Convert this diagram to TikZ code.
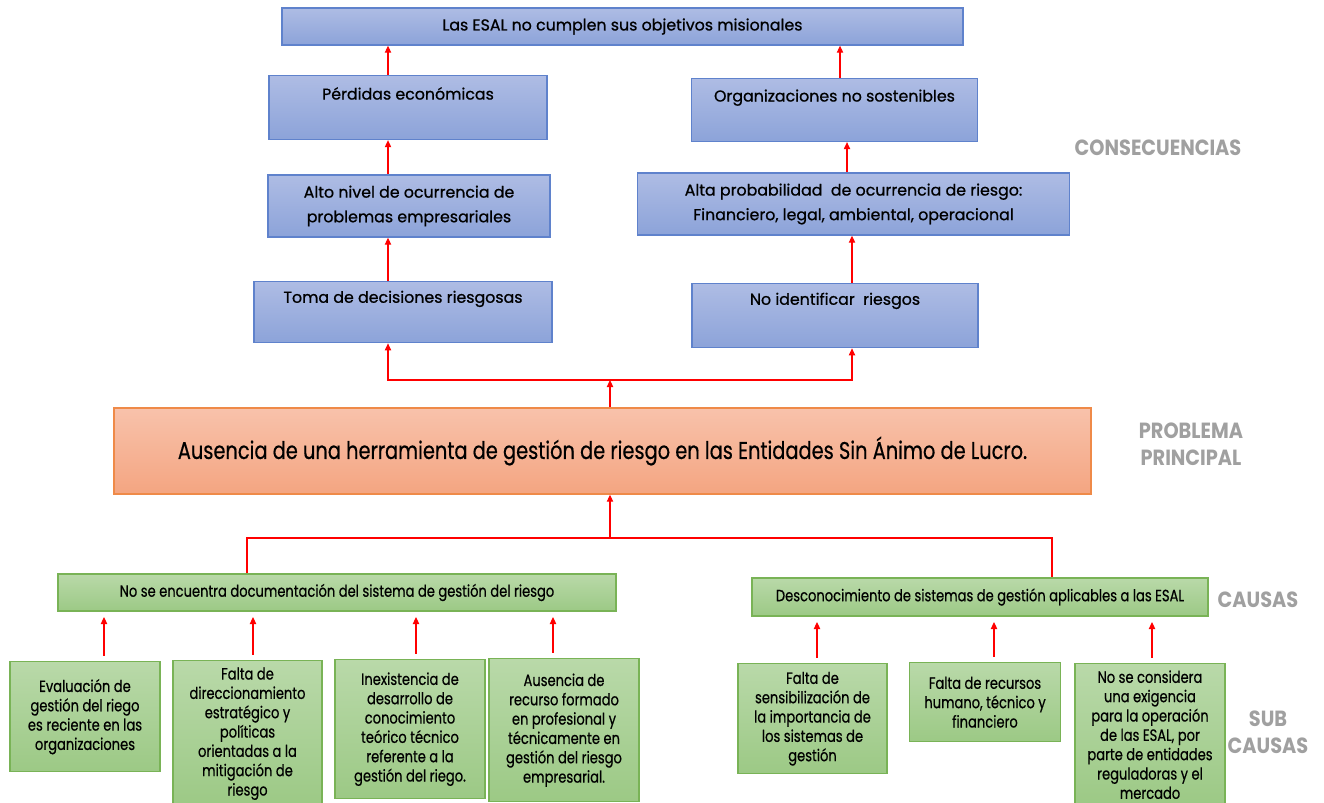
\documentclass[tikz,border=0pt]{standalone}
\usepackage{fontspec}
\setmainfont[FakeBold=0.8]{Poppins}
\newfontfamily\narrowfont[FakeStretch=0.8,FakeBold=0.5]{Poppins}
\newfontfamily\tagfont[FakeStretch=0.88]{Poppins}
\usepackage{xcolor}
\usepackage{tikz}
\usetikzlibrary{arrows.meta}
\usetikzlibrary{calc}

\newdimen\pix \pix=0.02cm

\definecolor{blueTop}{HTML}{AEBCE4}
\definecolor{blueBot}{HTML}{8CA3D9}
\definecolor{blueLine}{HTML}{5F82CC}
\definecolor{orangeTop}{HTML}{F8C2AB}
\definecolor{orangeBot}{HTML}{F4A581}
\definecolor{orangeLine}{HTML}{EF8A48}
\definecolor{greenTop}{HTML}{B9D9A9}
\definecolor{greenBot}{HTML}{9CC985}
\definecolor{greenLine}{HTML}{79B356}
\definecolor{tagGray}{HTML}{A0A0A0}

\begin{document}
\begin{tikzpicture}[x=0.02cm,y=-0.02cm,>={Triangle[length=4pt,width=3.6pt]}]
	\tikzstyle{cons}=[draw=blueLine,top color=blueTop,bottom color=blueBot,line width=0.8pt,align=center,font=\fontsize{9}{14}\selectfont]
	\tikzstyle{prob}=[draw=orangeLine,top color=orangeTop,bottom color=orangeBot,line width=0.8pt,font=\narrowfont\fontsize{13.8}{16}\selectfont]
	\tikzstyle{causa}=[draw=greenLine,top color=greenTop,bottom color=greenBot,line width=0.8pt,align=center,font=\narrowfont\fontsize{9.3}{11}\selectfont]
	\tikzstyle{sub}=[causa,anchor=north,inner xsep=1pt]
	\tikzstyle{tag}=[text=tagGray,align=center,font=\tagfont\bfseries\fontsize{12.5}{15.5}\selectfont]
	\tikzstyle{rarr}=[->,red,line width=0.6pt]
	\tikzstyle{rline}=[red,line width=0.6pt]

	\useasboundingbox (0,0) rectangle (1324,803);

	% consecuencias
	\node[cons,minimum width=681*\pix,minimum height=37*\pix] (T) at (622.5,26.5) {Las ESAL no cumplen sus objetivos misionales};
	\node[cons,anchor=north,minimum width=278*\pix,inner ysep=0pt,text height=13.6pt,text depth=22.7pt] (PE) at (408,75) {Pérdidas económicas};
	\node[cons,anchor=north,minimum width=286*\pix,inner ysep=0pt,text height=13pt,text depth=22.7pt] (ON) at (834.5,78) {Organizaciones no sostenibles};
	\node[cons,minimum width=282*\pix,minimum height=62*\pix] (AN) at (409,206) {Alto nivel de ocurrencia de\\problemas empresariales};
	\node[cons,minimum width=432*\pix,minimum height=62*\pix] (AP) at (853.5,204) {Alta probabilidad\ \ de ocurrencia de riesgo:\\Financiero, legal, ambiental, operacional};
	\node[cons,anchor=north,minimum width=298*\pix,inner ysep=0pt,text height=12pt,text depth=22.7pt] (TD) at (403,281) {Toma de decisiones riesgosas};
	\node[cons,anchor=north,minimum width=286*\pix,inner ysep=0pt,text height=12pt,text depth=24.4pt] (NI) at (835,283) {No identificar\ \ riesgos};

	% problema
	\node[prob,minimum width=977*\pix,minimum height=86*\pix] (M) at (602.5,451) {Ausencia de una herramienta de gestión de riesgo en las Entidades Sin Ánimo de Lucro.};

	% causas
	\node[causa,minimum width=558*\pix,minimum height=37*\pix] (C1) at (337,592.5) {No se encuentra documentación del sistema de gestión del riesgo};
	\node[causa,minimum width=456*\pix,minimum height=38*\pix] (C2) at (980,597) {Desconocimiento de sistemas de gestión aplicables a las ESAL};

	% sub causas
	\node[sub,minimum width=150*\pix,minimum height=110*\pix] (S1) at (85,661) {Evaluación de\\gestión del riego\\es reciente en las\\organizaciones};
	\node[sub,minimum width=149*\pix,minimum height=146*\pix] (S2) at (247.5,660) {Falta de\\direccionamiento\\estratégico y\\políticas\\orientadas a la\\mitigación de\\riesgo};
	\node[sub,minimum width=150*\pix,minimum height=139*\pix] (S3) at (410,659) {Inexistencia de\\desarrollo de\\conocimiento\\teórico técnico\\referente a la\\gestión del riego.};
	\node[sub,minimum width=150*\pix,minimum height=143*\pix] (S4) at (564,658) {Ausencia de\\recurso formado\\en profesional y\\técnicamente en\\gestión del riesgo\\empresarial.};
	\node[sub,minimum width=149*\pix,minimum height=110*\pix] (S5) at (812.5,663) {Falta de\\sensibilización de\\la importancia de\\los sistemas de\\gestión};
	\node[sub,minimum width=151*\pix,minimum height=79*\pix] (S6) at (985,662) {Falta de recursos\\humano, técnico y\\financiero};
	\node[sub,minimum width=150*\pix,minimum height=142*\pix] (S7) at (1150,663) {No se considera\\una exigencia\\para la operación\\de las ESAL, por\\parte de entidades\\reguladoras y el\\mercado};

	% etiquetas
	\node[tag] (lc) at (1158,148) {CONSECUENCIAS};
	\node[tag] (lp) at (1191,444) {PROBLEMA\\PRINCIPAL};
	\node[tag] (lk) at (1258,600) {CAUSAS};
	\node[tag] (ls) at (1268,732) {SUB\\CAUSAS};

	% columnas de flechas
	\coordinate (xL) at (388,0);
	\coordinate (r1) at (840,0);
	\coordinate (r2) at (847,0);
	\coordinate (r3) at (852,0);
	\coordinate (jt) at (610,380);
	\coordinate (jb) at (610,538);
	\coordinate (c1) at (247,0);
	\coordinate (c2) at (1052,0);
	\coordinate (s1) at (104,0);
	\coordinate (s2) at (253,0);
	\coordinate (s3) at (416,0);
	\coordinate (s4) at (553,0);
	\coordinate (s5) at (817,0);
	\coordinate (s6) at (994,0);
	\coordinate (s7) at (1152,0);

	\path[rarr]
		(PE.north -| xL) edge (T.south -| xL)
		(AN.north -| xL) edge (PE.south -| xL)
		(TD.north -| xL) edge (AN.south -| xL)
		(ON.north -| r1) edge (T.south -| r1)
		(AP.north -| r2) edge (ON.south -| r2)
		(NI.north -| r3) edge (AP.south -| r3)
		(M.north -| jt) edge (jt)
		(jb) edge (M.south -| jb)
		;
	\draw[rarr] (jt) -| (TD.south -| xL);
	\draw[rarr] (jt) -| (NI.south -| r3);
	\draw[rline] (C1.north -| c1) |- (jb) -| (C2.north -| c2);

	\path[rarr,shorten <=3pt,shorten >=3pt]
		(S1.north -| s1) edge (C1.south -| s1)
		(S2.north -| s2) edge (C1.south -| s2)
		(S3.north -| s3) edge (C1.south -| s3)
		(S4.north -| s4) edge (C1.south -| s4)
		(S5.north -| s5) edge (C2.south -| s5)
		(S6.north -| s6) edge (C2.south -| s6)
		(S7.north -| s7) edge (C2.south -| s7)
		;
\end{tikzpicture}
\end{document}
